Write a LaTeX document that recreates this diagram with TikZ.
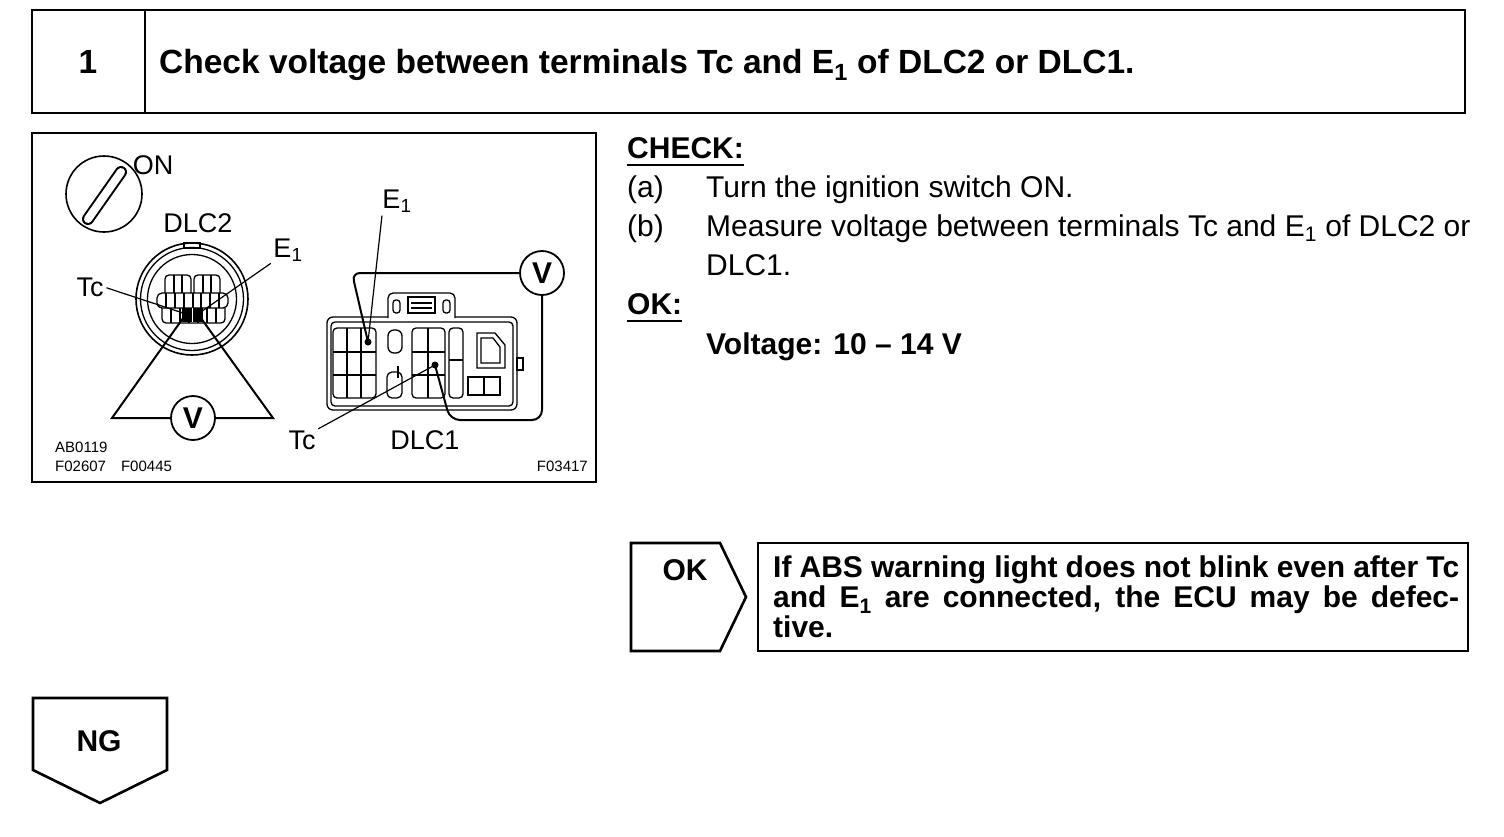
\documentclass[tikz,border=0pt]{standalone}
\usepackage{fontspec}
\setmainfont{Liberation Sans}
\usetikzlibrary{positioning}
\tikzset{
	frame/.style = {
		draw=black,
		line width=2.6pt
	},
	figframe/.style = {
		draw=black,
		line width=2pt
	},
	wire/.style = {
		draw=black,
		line width=2pt
	},
	lead/.style = {
		draw=black,
		line width=1.2pt,
		shorten <=3pt
	},
	pin/.style = {
		draw=black,
		line width=1.3pt
	},
	meter/.style = {
		circle,
		draw=black,
		line width=1.8pt,
		minimum size=44pt,
		inner sep=0pt,
		font=\fontsize{30}{30}\selectfont\bfseries
	},
	lbl/.style = {
		font=\fontsize{27}{27}\selectfont,
		inner sep=0pt,
		anchor=base
	},
	code/.style = {
		font=\fontsize{15}{15}\selectfont,
		inner sep=0pt,
		anchor=base west
	},
	body/.style = {
		font=\fontsize{30}{30}\selectfont,
		inner sep=0pt,
		anchor=base west
	},
	bodybf/.style = {
		body,
		font=\fontsize{30}{30}\selectfont\bfseries
	},
	head/.style = {
		font=\fontsize{33.5}{33.5}\selectfont\bfseries,
		inner sep=0pt,
		anchor=base west
	}
}
\begin{document}
\begin{tikzpicture}[x=1pt,y=-1pt]
\useasboundingbox (0,0) rectangle (1504,836);
\fill[white] (0,0) rectangle (1504,836);

% step header
\draw[frame] (32,10) rectangle (1465,113);
\draw[frame] (145,10) -- (145,113);
\node[head, anchor=base] (stepno) at (88,73) {1};
\node[head] (title) at (159,73) {Check voltage between terminals Tc and E\textsubscript{1} of DLC2 or DLC1.};

% illustration
\draw[figframe] (32,133) rectangle (596,482);

\node[circle, draw, line width=1.6pt, minimum size=76pt] (key) at (104,194) {};
\draw[line width=12pt, line cap=round] (88,219) -- (121,172);
\draw[white, line width=8pt, line cap=round] (88,219) -- (121,172);
\node[lbl] (on) at (153,174) {ON};
\node[lbl] (dlc2) at (198,232) {DLC2};

\node[circle, draw, line width=1.6pt, minimum size=112pt] (dlc2ring) at (192,299) {};
\node[circle, draw, line width=1.3pt, minimum size=103pt] at (dlc2ring) {};
\node[circle, draw, line width=1.3pt, minimum size=89pt] at (dlc2ring) {};
\draw[pin] (184,243) rectangle (200,248);
\draw[pin, rounded corners=4pt] (165,293) -- (165,275) -- (191,275) -- (191,293);
\draw[pin, rounded corners=4pt] (194,293) -- (194,275) -- (220,275) -- (220,293);
\foreach \x in {174,182,203,211}
	\draw[pin] (\x,275) -- (\x,293);
\draw[pin, rounded corners=5pt] (157,293) rectangle (228,308);
\foreach \x in {166,175,184,193,201,210,219}
	\draw[pin] (\x,293) -- (\x,308);
\draw[pin, rounded corners=4pt] (162,308) -- (162,323) -- (225,323) -- (225,308);
\foreach \x in {171,180,189,198,207,216}
	\draw[pin] (\x,308) -- (\x,323);
\fill (182,308) rectangle (203,322);
\draw[white, line width=1pt] (192.5,308) -- (192.5,322);
\coordinate (tc2pin) at (186,314);
\coordinate (e12pin) at (198,314);

\node[lbl] (tc2) at (90,296) {Tc};
\node[lbl] (e12) at (288,257) {E\textsubscript{1}};
\draw[lead] (tc2.east) -- (tc2pin);
\draw[lead] (e12.south west) -- (e12pin);

\node[meter] (V1) at (193,418) {V};
\coordinate (v1l) at (112,418);
\coordinate (v1r) at (273,418);
\draw[wire] (tc2pin) -- (v1l) -- (V1.west);
\draw[wire] (e12pin) -- (v1r) -- (V1.east);

% DLC1
\draw[pin, rounded corners=6pt] (327,317) rectangle (517,410);
\draw[pin, rounded corners=4pt] (331,322) rectangle (513,406);
\draw[pin, rounded corners=5pt, fill=white] (388,318) -- (388,293) -- (455,293) -- (455,318);
\draw[pin, rounded corners=3pt] (393,300) rectangle (400,313);
\draw[pin, rounded corners=3pt] (443,300) rectangle (450,313);
\draw[pin] (408,297) rectangle (435,313);
\draw[pin] (411,303) -- (432,303);
\draw[pin] (411,308) -- (432,308);
\draw[pin, rounded corners=4pt] (333,328) rectangle (376,398);
\foreach \x in {347,361}
	\draw[pin] (\x,328) -- (\x,398);
\foreach \y in {352,375}
	\draw[pin] (333,\y) -- (376,\y);
\draw[pin, rounded corners=6pt] (388,330) rectangle (402,353);
\draw[pin, rounded corners=5pt] (387,372) rectangle (402,398);
\draw[pin] (398,366) -- (398,378);
\draw[pin, rounded corners=4pt] (412,328) rectangle (445,398);
\draw[pin] (428,328) -- (428,398);
\foreach \y in {352,375}
	\draw[pin] (412,\y) -- (445,\y);
\draw[pin, rounded corners=4pt] (449,328) rectangle (463,398);
\draw[pin] (449,360) -- (463,360);
\draw[pin] (477,333) -- (495,333) -- (505,345) -- (505,368) -- (477,368) -- cycle;
\draw[pin] (481,338) -- (493,338) -- (500,347) -- (500,363) -- (481,363) -- cycle;
\draw[pin] (468,377) rectangle (500,395);
\draw[pin] (484,377) -- (484,395);
\draw[pin] (517,358) rectangle (523,370);

\coordinate (e1pin) at (368,342);
\coordinate (tcpin) at (435,365);
\fill (e1pin) circle (3.5);
\fill (tcpin) circle (3.5);

\node[lbl] (e1) at (397,208) {E\textsubscript{1}};
\node[lbl] (tc) at (302,449) {Tc};
\node[lbl] (dlc1) at (425,449) {DLC1};
\draw[lead] (e1.south west) -- (e1pin);
\draw[lead] (tc.north east) -- (tcpin);

\node[meter] (V2) at (542,273) {V};
\coordinate (e1bend) at (352,273);
\coordinate (vbot) at (542,420);
\coordinate (tcbend) at (450,420);
\draw[wire, rounded corners=8pt] (e1pin) -- (e1bend) -- (V2.west);
\draw[wire, rounded corners=10pt] (V2.south) -- (vbot) -- (tcbend) -- (tcpin);

\node[code] (ab) at (55,452) {AB0119};
\node[code] (fcodes) at (55,471) {F02607\quad F00445};
\node[code, anchor=base east] (fig) at (588,471) {F03417};

% check text
\node[bodybf] (check) at (627,158) {CHECK:};
\draw[line width=1.6pt] ([yshift=-7pt]check.base west) -- ([yshift=-7pt]check.base east);
\node[body] (ia) at (627,197) {(a)};
\node[body] (ta) at (706,197) {Turn the ignition switch ON.};
\node[body] (ib) at (627,236) {(b)};
\node[body] (tb) at (706,236) {Measure voltage between terminals Tc and E\textsubscript{1} of DLC2 or};
\node[body] (tb2) at (706,275) {DLC1.};
\node[bodybf] (ok) at (627,314) {OK:};
\draw[line width=1.6pt] ([yshift=-7pt]ok.base west) -- ([yshift=-7pt]ok.base east);
\node[bodybf] (volt) at (706,354) {Voltage: 10 -- 14 V};

% result
\draw[frame] (631,543) -- (720,543) -- (746,597) -- (720,651) -- (631,651) -- cycle;
\node[bodybf, anchor=base] (okbox) at (685,580) {OK};
\draw[frame] (758,543) rectangle (1468,651);
\node[font=\fontsize{30}{30}\selectfont\bfseries, inner sep=0pt, text width=686pt, align=justify, anchor=north west] (note) at (773,556)
	{If ABS warning light does not blink even after Tc\linebreak and E\textsubscript{1} are connected, the ECU may be defec-\linebreak tive.};

\draw[frame] (33,698) -- (167,698) -- (167,770) -- (100,803) -- (33,770) -- cycle;
\node[bodybf, anchor=base] (ng) at (99,751) {NG};
\end{tikzpicture}
\end{document}
